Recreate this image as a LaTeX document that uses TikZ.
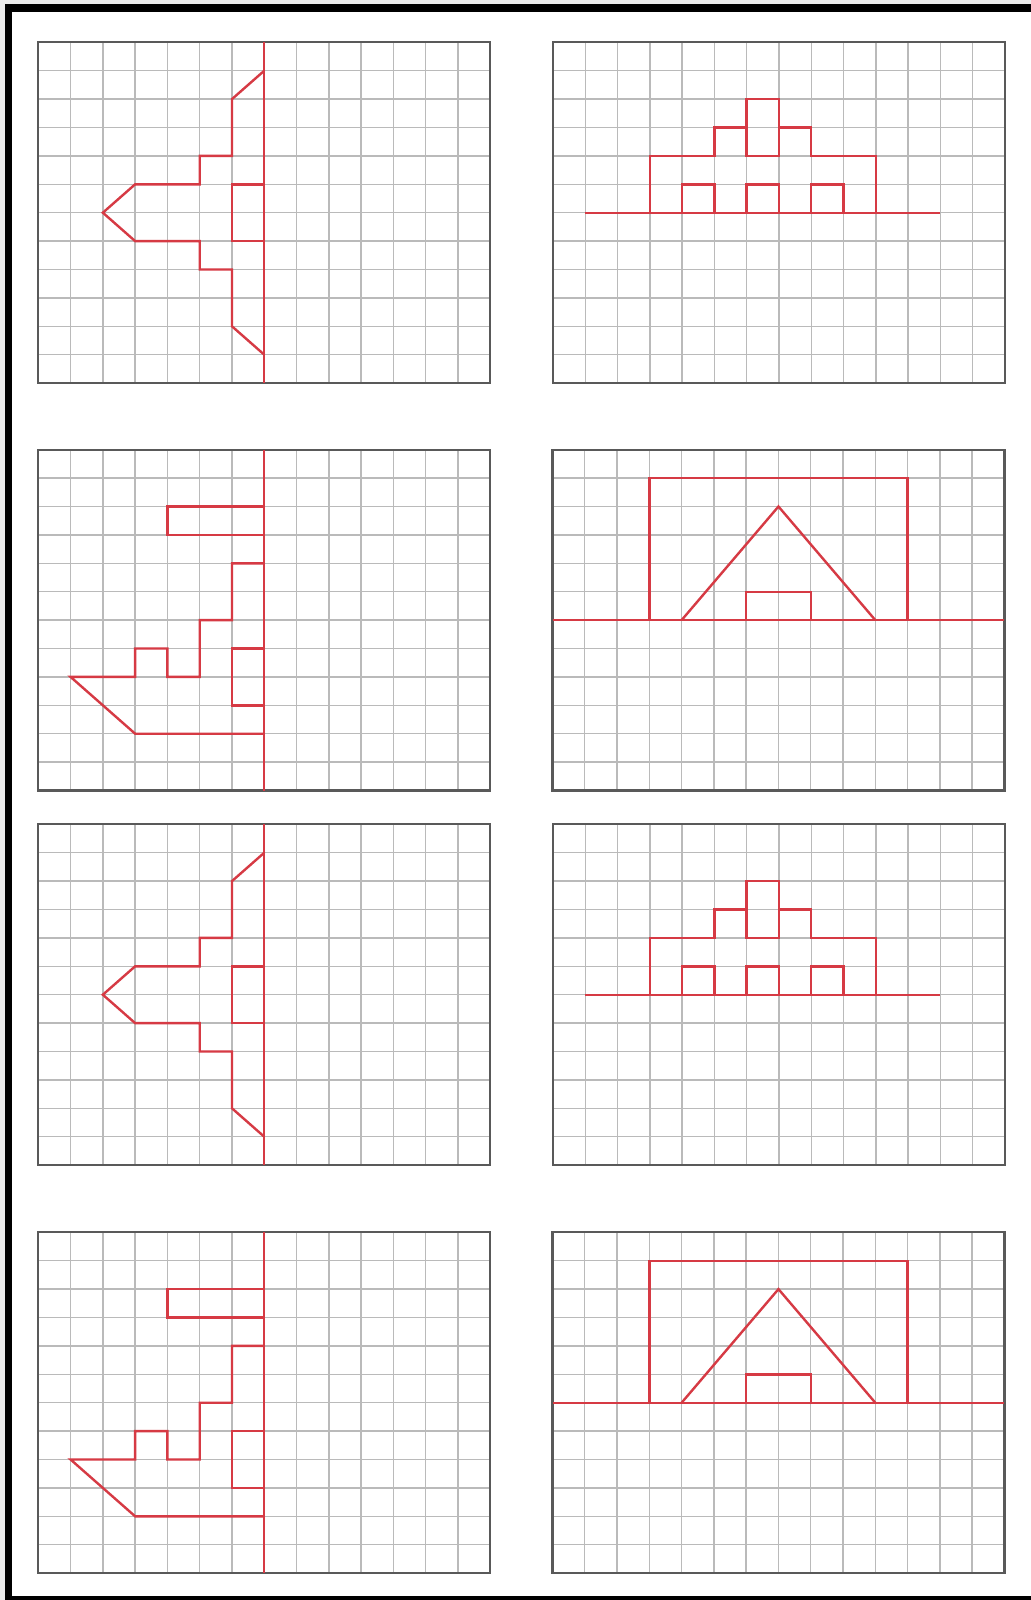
\documentclass[tikz,border=0pt]{standalone}
\begin{document}
\begin{tikzpicture}[x=0.5pt,y=-0.5pt,
  gridline/.style={draw=black!27,line width=0.7pt},
  frame/.style={draw=black!65,line width=1.1pt},
  redline/.style={draw=redc,line width=1.2pt,line join=miter},
  cellunits/.style={x=16.14pt,y=-14.2pt}]
\definecolor{redc}{RGB}{214,58,68}
\useasboundingbox (0,0) rectangle (1031,1600);
% page background and border
\fill[white] (0,0) rectangle (1031,1600);
\fill[black!8] (0,0) rectangle (5,1600);
\fill[black!8] (0,0) rectangle (1031,4);
\fill[black] (5,4) rectangle (1031,12.3);
\fill[black] (5,4) rectangle (12.3,1600);
\fill[black] (5,1596) rectangle (1031,1600);
\newcommand\gridbox{%
  \foreach \i in {1,...,13} \draw[gridline] (\i,0) -- (\i,12);
  \foreach \j in {1,...,11} \draw[gridline] (0,\j) -- (14,\j);
  \draw[frame] (0,0) rectangle (14,12);}
\newcommand\planefig{%
  \draw[redline] (7,0) -- (7,12);
  \draw[redline] (7,1) -- (6,2) -- (6,4) -- (5,4) -- (5,5) -- (3,5) -- (2,6) -- (3,7) -- (5,7) -- (5,8) -- (6,8) -- (6,10) -- (7,11);
  \draw[redline] (7,5) -- (6,5) -- (6,7) -- (7,7);}
\newcommand\stepfig{%
  \draw[redline] (1,6) -- (12,6);
  \draw[redline] (3,6) -- (3,4) -- (5,4) -- (5,3) -- (6,3) -- (6,2) -- (7,2) -- (7,3) -- (8,3) -- (8,4) -- (10,4) -- (10,6);
  \draw[redline] (6,3) -- (6,4) -- (7,4) -- (7,3);
  \draw[redline] (4,6) -- (4,5) -- (5,5) -- (5,6);
  \draw[redline] (6,6) -- (6,5) -- (7,5) -- (7,6);
  \draw[redline] (8,6) -- (8,5) -- (9,5) -- (9,6);}
\newcommand\boatfig{%
  \draw[redline] (7,0) -- (7,12);
  \draw[redline] (7,2) -- (4,2) -- (4,3) -- (7,3);
  \draw[redline] (7,4) -- (6,4) -- (6,6) -- (5,6) -- (5,8) -- (4,8) -- (4,7) -- (3,7) -- (3,8) -- (1,8) -- (3,10) -- (7,10);
  \draw[redline] (7,7) -- (6,7) -- (6,9) -- (7,9);}
\newcommand\housefig{%
  \draw[redline] (0,6) -- (14,6);
  \draw[redline] (3,6) -- (3,1) -- (11,1) -- (11,6);
  \draw[redline] (4,6) -- (7,2) -- (10,6);
  \draw[redline] (6,6) -- (6,5) -- (8,5) -- (8,6);}
% row 1
\begin{scope}[shift={(19.15pt,-21.15pt)},cellunits] \gridbox \planefig \end{scope}
\begin{scope}[shift={(276.5pt,-21.15pt)},cellunits] \gridbox \stepfig \end{scope}
% row 2
\begin{scope}[shift={(19.15pt,-224.85pt)},cellunits] \gridbox \boatfig \end{scope}
\begin{scope}[shift={(276.25pt,-224.85pt)},cellunits] \gridbox \housefig \end{scope}
% row 3
\begin{scope}[shift={(19.15pt,-412.15pt)},cellunits] \gridbox \planefig \end{scope}
\begin{scope}[shift={(276.5pt,-412.15pt)},cellunits] \gridbox \stepfig \end{scope}
% row 4
\begin{scope}[shift={(19.15pt,-616.15pt)},cellunits] \gridbox \boatfig \end{scope}
\begin{scope}[shift={(276.25pt,-616.15pt)},cellunits] \gridbox \housefig \end{scope}
\end{tikzpicture}
\end{document}
